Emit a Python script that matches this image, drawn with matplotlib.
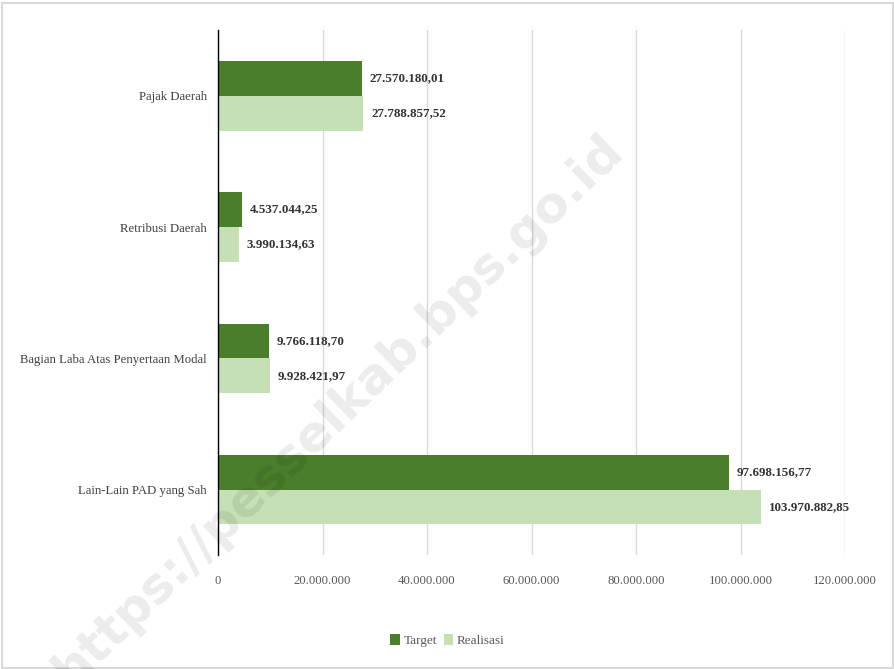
import matplotlib.pyplot as plt
import numpy as np

plt.rcParams['font.family'] = ['Liberation Serif', 'DejaVu Serif']

kategori = ['Pajak Daerah', 'Retribusi Daerah', 'Bagian Laba Atas Penyertaan Modal', 'Lain-Lain PAD yang Sah']
target = [27570180.01, 4537044.25, 9766118.70, 97698156.77]
realisasi = [27788857.52, 3990134.63, 9928421.97, 103970882.85]
label_target = ['27.570.180,01', '4.537.044,25', '9.766.118,70', '97.698.156,77']
label_realisasi = ['27.788.857,52', '3.990.134,63', '9.928.421,97', '103.970.882,85']
xticks = [0, 20000000, 40000000, 60000000, 80000000, 100000000, 120000000]
xtick_labels = ['0', '20.000.000', '40.000.000', '60.000.000', '80.000.000', '100.000.000', '120.000.000']

warna_t = '#4a7e2c'
warna_r = '#c5e0b4'

fig = plt.figure(figsize=(8.95, 6.69), dpi=100)
ax = fig.add_axes([0.2436, 0.17, 0.7006, 0.785])

y = np.arange(len(kategori))
h = 0.265
ax.barh(y - h / 2, target, height=h, color=warna_t, label='Target')
ax.barh(y + h / 2, realisasi, height=h, color=warna_r, label='Realisasi')

for i in range(len(kategori)):
    ax.text(target[i] + 1500000, y[i] - h / 2, label_target[i], va='center', ha='left',
            fontsize=9.4, fontweight='bold', color='#333333')
    ax.text(realisasi[i] + 1500000, y[i] + h / 2, label_realisasi[i], va='center', ha='left',
            fontsize=9.4, fontweight='bold', color='#333333')

ax.set_ylim(len(kategori) - 0.5, -0.5)
ax.set_xlim(0, 120000000)
ax.set_yticks(y)
ax.set_yticklabels(kategori, fontsize=9.2, color='#404040')
ax.set_xticks(xticks)
ax.set_xticklabels(xtick_labels, fontsize=9.2, color='#595959')
ax.tick_params(length=0, pad=14)
ax.tick_params(axis='y', pad=8)
ax.xaxis.grid(True, color='#d9d9d9', linewidth=1)
ax.set_axisbelow(True)
for s in ['top', 'right', 'bottom']:
    ax.spines[s].set_visible(False)
ax.spines['left'].set_color('#000000')
ax.spines['left'].set_linewidth(1)

fig.legend(loc='lower center', bbox_to_anchor=(0.5, 0.015), ncol=2, frameon=False,
           fontsize=9.5, handlelength=0.7, handleheight=0.9, handletextpad=0.3,
           columnspacing=0.5, labelcolor='#595959')

# bingkai luar
fig.patches.append(plt.Rectangle((0.002, 0.002), 0.996, 0.994, transform=fig.transFigure,
                                 fill=False, edgecolor='#d9d9d9', linewidth=1.5))

# watermark
fig.text(0.378, 0.387, 'https://pesselkab.bps.go.id', rotation=44, fontsize=36,
         family=['DejaVu Sans'], fontweight='bold', color='#000000', alpha=0.08,
         ha='center', va='center', rotation_mode='anchor')

fig.savefig('out.png', dpi=100)
